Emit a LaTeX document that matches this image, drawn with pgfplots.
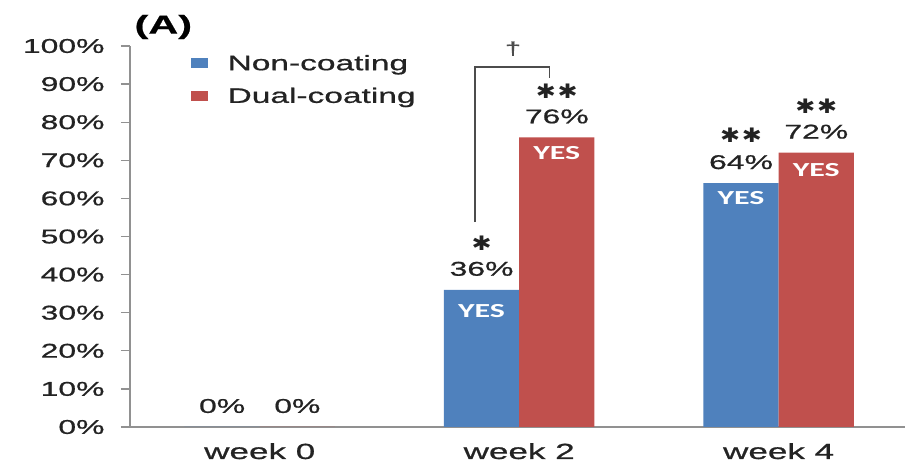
\documentclass[border=0pt]{standalone}
\usepackage{fontspec}
\setmainfont{Liberation Sans}[FakeStretch=1.6, FakeBold=0.8]
\newfontfamily\yesfont{Carlito}[FakeStretch=1.6]
\newfontfamily\starfont{DejaVu Sans}[FakeStretch=1.2]
\usepackage{pgfplots}
\pgfplotsset{compat=1.18}
\definecolor{barblue}{RGB}{79,129,189}
\definecolor{barred}{RGB}{192,80,77}
\definecolor{axgray}{RGB}{145,145,145}
\definecolor{txt}{RGB}{35,35,35}
\newcommand\st{{\starfont\fontsize{20}{20}\selectfont ✱}}
\begin{document}
\begin{tikzpicture}
\path[use as bounding box] (-130bp,-40bp) rectangle (775bp,427bp);
\begin{axis}[
  at={(0,0)}, anchor=south west,
  scale only axis, width=775bp, height=381bp,
  xmin=-0.5, xmax=2.487, ymin=0, ymax=100,
  axis lines*=left,
  axis line style={axgray, line width=1.3bp},
  every tick/.style={axgray, line width=1.3bp},
  tick align=outside,
  major tick length=9bp, minor tick length=9bp,
  ytick={0,10,...,100},
  yticklabels={0\%,10\%,20\%,30\%,40\%,50\%,60\%,70\%,80\%,90\%,100\%},
  yticklabel style={font=\fontsize{20}{20}\selectfont, text=txt, xshift=-13bp},
  xtick={0,1,2},
  xticklabels={week 0,week 2,week 4},
  xtick style={draw=none},
  minor xtick={0.5,1.5},
  xticklabel style={font=\fontsize{22}{22}\selectfont, text=txt, anchor=base, yshift=-23bp},
  /pgf/number format/assume math mode=true,
  ybar, bar width=0.29,
  nodes near coords={\pgfmathprintnumber{\pgfplotspointmeta}\%},
  every node near coord/.append style={anchor=center, yshift=21bp, font=\fontsize{20}{20}\selectfont, text=txt},
  legend style={at={(rel axis cs:0.078,0.982)}, anchor=north west, draw=none, fill=none,
    font=\fontsize{21}{21}\selectfont, text=txt, row sep=12bp, inner sep=0pt,
    /tikz/every odd column/.append style={column sep=18bp}},
  legend cell align=left,
  clip=false,
]
\addplot[fill=barblue, draw=none, bar shift=-0.145,
  legend image code/.code={\fill[barblue] (0bp,-5bp) rectangle (17bp,5bp);}]
  coordinates {(0,0) (1,36) (2,64)};
\addlegendentry{Non-coating}
\addplot[fill=barred, draw=none, bar shift=0.145,
  legend image code/.code={\fill[barred] (0bp,-5bp) rectangle (17bp,5bp);}]
  coordinates {(0,0) (1,76) (2,72)};
\addlegendentry{Dual-coating}

% YES labels
\node[text=white, font=\yesfont\bfseries\fontsize{20}{20}\selectfont] at (axis cs:0.855,36) [yshift=-21bp] {YES};
\node[text=white, font=\yesfont\bfseries\fontsize{20}{20}\selectfont] at (axis cs:1.145,76) [yshift=-16bp] {YES};
\node[text=white, font=\yesfont\bfseries\fontsize{20}{20}\selectfont] at (axis cs:1.855,64) [yshift=-15bp] {YES};
\node[text=white, font=\yesfont\bfseries\fontsize{20}{20}\selectfont] at (axis cs:2.145,72) [yshift=-17bp] {YES};

% significance stars
\node[text=txt] at (axis cs:0.855,36) [yshift=47bp] {\st};
\node[text=txt] at (axis cs:1.145,76) [yshift=46bp] {\st\,\st};
\node[text=txt] at (axis cs:1.855,64) [yshift=48bp] {\st\,\st};
\node[text=txt] at (axis cs:2.145,72) [yshift=46bp] {\st\,\st};

% bracket
\draw[black!70, line width=1.1bp] (axis cs:0.8295,53.8) |- (axis cs:1.1185,94.5) -- (axis cs:1.1185,91.6);
\node[text=black!70, font=\fontsize{18}{18}\selectfont] at (axis cs:0.976,99.3) {†};

% panel label
\node[text=black, font=\bfseries\fontsize{26}{26}\selectfont] at (rel axis cs:0.043,1.05) {(A)};
\end{axis}
\end{tikzpicture}
\end{document}
